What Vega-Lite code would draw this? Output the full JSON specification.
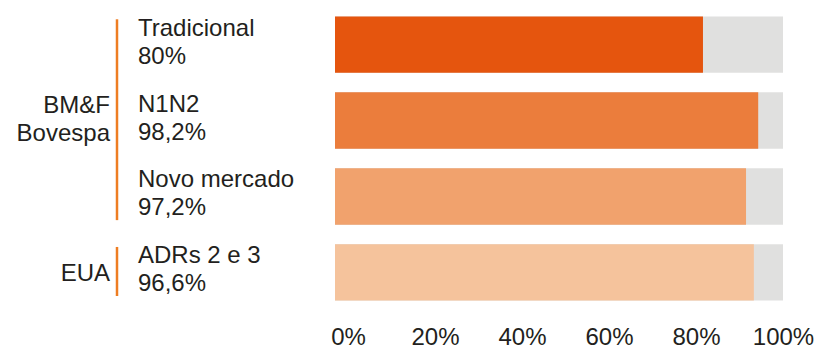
{
  "$schema": "https://vega.github.io/schema/vega-lite/v6.json",
  "padding": {"left": 0, "top": 0, "right": 0, "bottom": 0},
  "bounds": "flush",
  "config": {"view": {"stroke": null}, "font": "Liberation Sans"},
  "datasets": {
    "main": [
      {"cat": "Tradicional", "pct": "80%", "value": 81.6},
      {"cat": "N1N2", "pct": "98,2%", "value": 94.3},
      {"cat": "Novo mercado", "pct": "97,2%", "value": 91.5},
      {"cat": "ADRs 2 e 3", "pct": "96,6%", "value": 93.3}
    ],
    "groups": [
      {"group": "BM&F\nBovespa", "first": "Tradicional", "mid": "N1N2", "last": "Novo mercado"},
      {"group": "EUA", "first": "ADRs 2 e 3", "mid": "ADRs 2 e 3", "last": "ADRs 2 e 3"}
    ]
  },
  "spacing": 21,
  "hconcat": [
    {
      "width": 117,
      "height": 317,
      "data": {"name": "groups"},
      "encoding": {
        "y": {"field": "first", "type": "nominal",
          "scale": {"type": "band", "domain": ["Tradicional", "N1N2", "Novo mercado", "ADRs 2 e 3"], "paddingInner": 0.257, "paddingOuter": 0.217},
          "axis": null}
      },
      "layer": [
        {
          "mark": {"type": "rule", "color": "#EE7D22", "strokeWidth": 2.5},
          "encoding": {
            "x": {"value": "width"},
            "y": {"field": "first", "type": "nominal", "bandPosition": 0.05},
            "y2": {"field": "last", "bandPosition": 0.92}
          }
        },
        {
          "transform": [{"filter": "datum.first != datum.last"}],
          "mark": {"type": "text", "align": "right", "baseline": "middle", "dx": -7, "dy": -15, "fontSize": 24, "lineHeight": 28, "lineBreak": "\n", "color": "#231F20"},
          "encoding": {
            "x": {"value": "width"},
            "y": {"field": "mid", "type": "nominal"},
            "text": {"field": "group"}
          }
        },
        {
          "transform": [{"filter": "datum.first == datum.last"}],
          "mark": {"type": "text", "align": "right", "baseline": "middle", "dx": -7, "dy": 2, "fontSize": 24, "lineHeight": 28, "lineBreak": "\n", "color": "#231F20"},
          "encoding": {
            "x": {"value": "width"},
            "y": {"field": "mid", "type": "nominal"},
            "text": {"field": "group"}
          }
        }
      ]
    },
    {
      "width": 176,
      "height": 317,
      "data": {"name": "main"},
      "transform": [{"calculate": "datum.cat + '\\n' + datum.pct", "as": "caption"}],
      "mark": {"type": "text", "align": "left", "baseline": "middle", "dy": -16, "fontSize": 24, "lineHeight": 28, "lineBreak": "\n", "color": "#231F20"},
      "encoding": {
        "x": {"value": 0},
        "y": {"field": "cat", "type": "nominal",
          "scale": {"type": "band", "domain": ["Tradicional", "N1N2", "Novo mercado", "ADRs 2 e 3"], "paddingInner": 0.257, "paddingOuter": 0.217},
          "axis": null},
        "text": {"field": "caption"}
      }
    },
    {
      "width": 448,
      "height": 317,
      "data": {"name": "main"},
      "layer": [
        {
          "mark": {"type": "bar", "color": "#E0E0DF"},
          "encoding": {
            "x": {"datum": 100, "type": "quantitative",
              "scale": {"domain": [-3, 100], "nice": false, "zero": false},
              "axis": {"values": [0, 20, 40, 60, 80, 100], "labelExpr": "datum.value + '%'", "labelFlush": false, "domain": false, "ticks": false, "grid": false, "labelFontSize": 24, "labelColor": "#231F20", "labelPadding": 8, "title": null}},
            "x2": {"datum": -3},
            "y": {"field": "cat", "type": "nominal",
              "scale": {"type": "band", "domain": ["Tradicional", "N1N2", "Novo mercado", "ADRs 2 e 3"], "paddingInner": 0.257, "paddingOuter": 0.217},
              "axis": null}
          }
        },
        {
          "mark": {"type": "bar"},
          "encoding": {
            "x": {"field": "value", "type": "quantitative"},
            "x2": {"datum": -3},
            "y": {"field": "cat", "type": "nominal"},
            "color": {"field": "cat", "type": "nominal", "legend": null,
              "scale": {"domain": ["Tradicional", "N1N2", "Novo mercado", "ADRs 2 e 3"], "range": ["#E5550E", "#EB7D3C", "#F1A26D", "#F5C39C"]}}
          }
        }
      ]
    }
  ]
}
